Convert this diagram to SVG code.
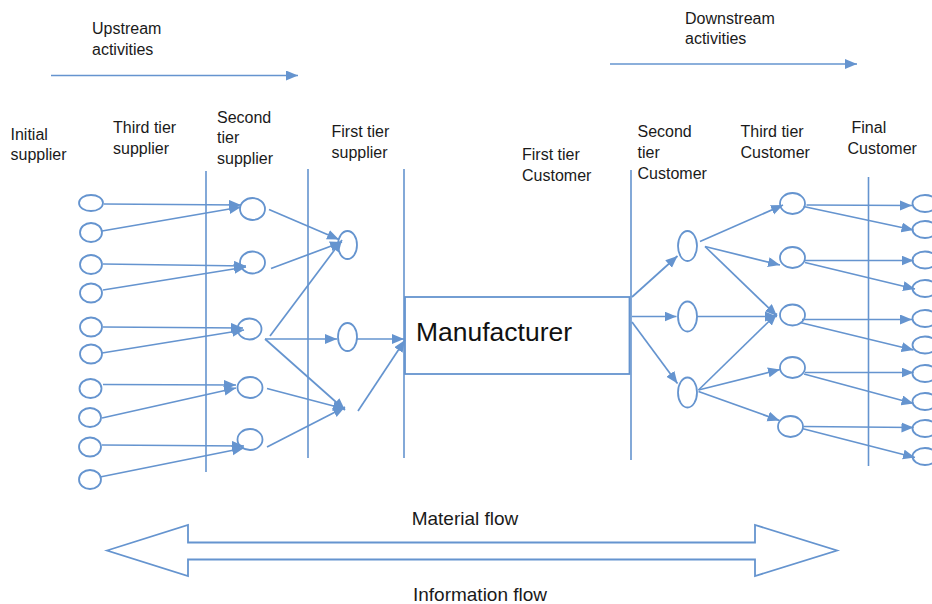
<svg xmlns="http://www.w3.org/2000/svg" width="932" height="604" viewBox="0 0 932 604">
  <style>
    .lbl { font-family: "Liberation Sans", Arial, sans-serif; font-size: 16px; fill: #1a1a1a; }
    .flow { font-family: "Liberation Sans", Arial, sans-serif; font-size: 19px; fill: #1a1a1a; }
    .big { font-family: "Liberation Sans", Arial, sans-serif; font-size: 25.5px; fill: #111111; }
    .node { fill: #ffffff; stroke: #6594cf; stroke-width: 1.8; }
    .div { stroke: #6594cf; stroke-width: 1.6; fill: none; }
    .edge { stroke: #6594cf; stroke-width: 1.7; fill: none; marker-end: url(#head); }
  </style>
  <defs>
    <marker id="head" markerUnits="userSpaceOnUse" markerWidth="13" markerHeight="11" refX="12" refY="5" orient="auto">
      <path d="M0,0 L12,5 L0,10 z" fill="#6594cf"/>
    </marker>
  </defs>
  <rect width="932" height="604" fill="#ffffff"/>

  <!-- headings -->
  <g id="headings">
    <text class="lbl" x="92" y="34">Upstream</text>
    <text class="lbl" x="92" y="54.5">activities</text>
    <text class="lbl" x="685" y="23.5">Downstream</text>
    <text class="lbl" x="685" y="44">activities</text>
    <text class="lbl" x="10.5" y="139.5">Initial</text>
    <text class="lbl" x="10.5" y="160">supplier</text>
    <text class="lbl" x="113" y="133">Third tier</text>
    <text class="lbl" x="113" y="153.5">supplier</text>
    <text class="lbl" x="217" y="122.5">Second</text>
    <text class="lbl" x="217" y="143">tier</text>
    <text class="lbl" x="217" y="163.5">supplier</text>
    <text class="lbl" x="331.5" y="137">First tier</text>
    <text class="lbl" x="331.5" y="157.5">supplier</text>
    <text class="lbl" x="522" y="160">First tier</text>
    <text class="lbl" x="522" y="180.5">Customer</text>
    <text class="lbl" x="637.5" y="137">Second</text>
    <text class="lbl" x="637.5" y="158">tier</text>
    <text class="lbl" x="637.5" y="179">Customer</text>
    <text class="lbl" x="740.5" y="137">Third tier</text>
    <text class="lbl" x="740.5" y="158">Customer</text>
    <text class="lbl" x="851.5" y="133">Final</text>
    <text class="lbl" x="847.5" y="154">Customer</text>
  </g>

  <!-- tier dividers -->
  <g id="dividers">
    <line class="div" x1="206" y1="171" x2="206" y2="472"/>
    <line class="div" x1="308" y1="169" x2="308" y2="458"/>
    <line class="div" x1="404" y1="169" x2="404" y2="458"/>
    <line class="div" x1="631" y1="170" x2="631" y2="460"/>
    <line class="div" x1="868.5" y1="177" x2="868.5" y2="466"/>
  </g>

  <!-- initial suppliers -->
  <g id="initial-suppliers">
    <ellipse class="node" cx="91" cy="203" rx="12" ry="8"/>
    <ellipse class="node" cx="91" cy="232.5" rx="11" ry="9.5"/>
    <ellipse class="node" cx="91" cy="264.5" rx="11" ry="9.5"/>
    <ellipse class="node" cx="91" cy="293" rx="11" ry="9.5"/>
    <ellipse class="node" cx="91" cy="327" rx="11" ry="9.5"/>
    <ellipse class="node" cx="91" cy="354" rx="11" ry="9.5"/>
    <ellipse class="node" cx="90.5" cy="388.5" rx="11" ry="9.5"/>
    <ellipse class="node" cx="90" cy="417.5" rx="11" ry="9.5"/>
    <ellipse class="node" cx="90" cy="447" rx="11" ry="9.5"/>
    <ellipse class="node" cx="90" cy="479.5" rx="11" ry="9.5"/>
  </g>

  <!-- third tier suppliers -->
  <g id="third-tier-suppliers">
    <ellipse class="node" cx="252.5" cy="209" rx="12.5" ry="11"/>
    <ellipse class="node" cx="252.5" cy="262.5" rx="12.5" ry="11"/>
    <ellipse class="node" cx="249.5" cy="329" rx="12" ry="10.5"/>
    <ellipse class="node" cx="250" cy="387.5" rx="12.5" ry="10.5"/>
    <ellipse class="node" cx="250" cy="439.5" rx="12.5" ry="10.5"/>
  </g>

  <!-- second tier suppliers -->
  <g id="second-tier-suppliers">
    <ellipse class="node" cx="347.5" cy="245" rx="9.5" ry="14"/>
    <ellipse class="node" cx="347.5" cy="337" rx="9.5" ry="14"/>
  </g>

  <!-- manufacturer -->
  <g id="manufacturer">
    <rect class="node" x="405" y="297" width="224.5" height="77" stroke-width="2"/>
    <text class="big" x="416" y="340.5" textLength="156" lengthAdjust="spacingAndGlyphs">Manufacturer</text>
  </g>

  <!-- second tier customers -->
  <g id="second-tier-customers">
    <ellipse class="node" cx="687.5" cy="246" rx="9.5" ry="15"/>
    <ellipse class="node" cx="687.5" cy="316.5" rx="9.5" ry="15"/>
    <ellipse class="node" cx="687.5" cy="392.5" rx="9.5" ry="15"/>
  </g>

  <!-- third tier customers -->
  <g id="third-tier-customers">
    <ellipse class="node" cx="792.5" cy="203.5" rx="12.5" ry="10.5"/>
    <ellipse class="node" cx="792.5" cy="257.5" rx="12.5" ry="10.5"/>
    <ellipse class="node" cx="792.5" cy="315" rx="12.5" ry="10.5"/>
    <ellipse class="node" cx="792.5" cy="367.5" rx="12.5" ry="10.5"/>
    <ellipse class="node" cx="790.5" cy="426.5" rx="12.5" ry="10.5"/>
  </g>

  <!-- final customers -->
  <g id="final-customers">
    <ellipse class="node" cx="925" cy="203.5" rx="12.5" ry="8.5"/>
    <ellipse class="node" cx="925" cy="229.5" rx="12.5" ry="8.5"/>
    <ellipse class="node" cx="925" cy="260" rx="12.5" ry="8.5"/>
    <ellipse class="node" cx="925" cy="288.5" rx="12.5" ry="8.5"/>
    <ellipse class="node" cx="925" cy="318.5" rx="12.5" ry="8.5"/>
    <ellipse class="node" cx="925" cy="345" rx="12.5" ry="8.5"/>
    <ellipse class="node" cx="925" cy="373.5" rx="12.5" ry="8.5"/>
    <ellipse class="node" cx="925" cy="401.5" rx="12.5" ry="8.5"/>
    <ellipse class="node" cx="925" cy="428.5" rx="12.5" ry="8.5"/>
    <ellipse class="node" cx="925" cy="456.5" rx="12.5" ry="8.5"/>
  </g>

  <!-- flow connectors -->
  <g id="connectors">
    <!-- direction arrows -->
    <line class="edge" x1="51" y1="75.5" x2="298" y2="75.5"/>
    <line class="edge" x1="610" y1="64" x2="857" y2="64"/>

    <!-- initial suppliers to third tier -->
    <line class="edge" x1="104" y1="204" x2="241" y2="205"/>
    <line class="edge" x1="102" y1="231" x2="241" y2="207"/>
    <line class="edge" x1="103" y1="264" x2="246" y2="266"/>
    <line class="edge" x1="103" y1="290" x2="246" y2="267"/>
    <line class="edge" x1="103" y1="327" x2="243" y2="328"/>
    <line class="edge" x1="102" y1="353" x2="244" y2="330"/>
    <line class="edge" x1="103" y1="384.5" x2="236" y2="385"/>
    <line class="edge" x1="102" y1="418" x2="236" y2="388"/>
    <line class="edge" x1="102" y1="445" x2="244" y2="446"/>
    <line class="edge" x1="100" y1="477" x2="244" y2="448"/>

    <!-- third tier to second tier -->
    <line class="edge" x1="269" y1="209.5" x2="339" y2="239.5"/>
    <line class="edge" x1="271" y1="268.5" x2="342" y2="242"/>
    <line class="edge" x1="270" y1="336" x2="342" y2="240"/>
    <line class="edge" x1="265" y1="339" x2="337" y2="339"/>
    <line class="edge" x1="265" y1="339" x2="345" y2="410"/>
    <line class="edge" x1="267" y1="388.5" x2="345" y2="409"/>
    <line class="edge" x1="267" y1="447" x2="345" y2="407"/>

    <!-- second tier to manufacturer -->
    <line class="edge" x1="357" y1="339" x2="404" y2="339"/>
    <line class="edge" x1="358" y1="411" x2="405" y2="340"/>

    <!-- manufacturer to second tier customers -->
    <line class="edge" x1="632" y1="297" x2="677.5" y2="256"/>
    <line class="edge" x1="632" y1="316.5" x2="676.5" y2="316.5"/>
    <line class="edge" x1="632" y1="322" x2="677.5" y2="383.5"/>

    <!-- second tier to third tier customers -->
    <line class="edge" x1="700" y1="241.5" x2="783" y2="205"/>
    <line class="edge" x1="705" y1="246.5" x2="780" y2="265"/>
    <line class="edge" x1="705" y1="246.5" x2="777" y2="316"/>
    <line class="edge" x1="697" y1="316.5" x2="777" y2="316.5"/>
    <line class="edge" x1="698.5" y1="390" x2="777" y2="313.5"/>
    <line class="edge" x1="698.5" y1="390" x2="780" y2="369.5"/>
    <line class="edge" x1="698.5" y1="391.5" x2="779.5" y2="420.5"/>

    <!-- third tier to final customers -->
    <line class="edge" x1="806.5" y1="205" x2="912" y2="205.5"/>
    <line class="edge" x1="803.5" y1="206.5" x2="913.5" y2="230"/>
    <line class="edge" x1="805" y1="260.5" x2="913.5" y2="260.5"/>
    <line class="edge" x1="805" y1="262.5" x2="915" y2="289"/>
    <line class="edge" x1="802" y1="319.5" x2="912" y2="319.5"/>
    <line class="edge" x1="800" y1="322.5" x2="913.5" y2="350"/>
    <line class="edge" x1="805" y1="372.5" x2="913.5" y2="372.5"/>
    <line class="edge" x1="804" y1="374" x2="913.5" y2="403.5"/>
    <line class="edge" x1="803.5" y1="426.5" x2="913.5" y2="427.5"/>
    <line class="edge" x1="802" y1="428.5" x2="915" y2="457.5"/>

    <!-- two-way flow arrow -->
    <polygon class="node" stroke-width="2" points="107,550.5 188,525 188,542.5 755,542.5 755,525 837,550.5 755,576 755,559.5 188,559.5 188,576"/>
  </g>

  <g id="flow-labels">
    <text class="flow" x="465" y="525" text-anchor="middle">Material flow</text>
    <text class="flow" x="480" y="600.5" text-anchor="middle">Information flow</text>
  </g>
</svg>
